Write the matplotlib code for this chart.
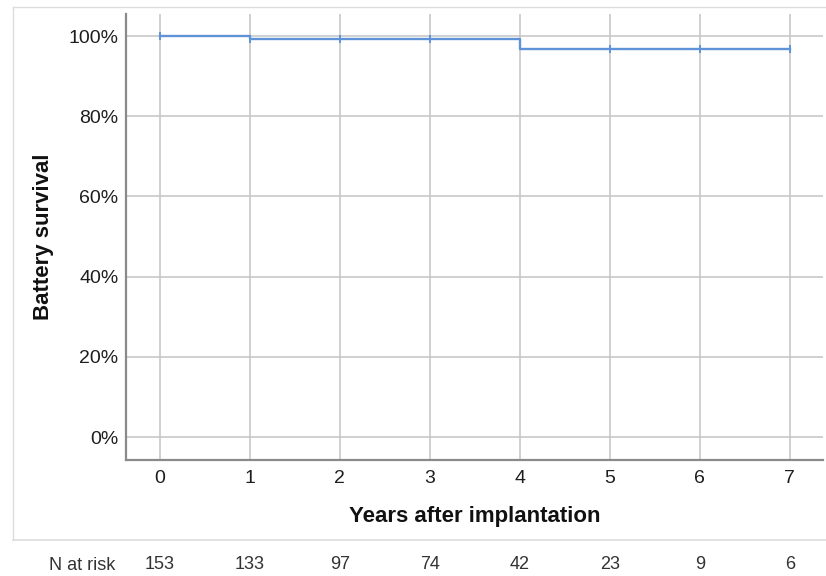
import matplotlib.pyplot as plt
from matplotlib.lines import Line2D

plt.rcParams['font.family'] = ['Liberation Sans', 'DejaVu Sans']

# Kaplan-Meier step data (battery survival, %)
times = [0, 1, 4, 7]
survival = [100.0, 99.2, 96.7, 96.7]
censor_t = [0, 1, 2, 3, 5, 6, 7]
censor_s = [100.0, 99.2, 99.2, 99.2, 96.7, 96.7, 96.7]
years = [0, 1, 2, 3, 4, 5, 6, 7]
n_at_risk = [153, 133, 97, 74, 42, 23, 9, 6]
yticks = [0, 20, 40, 60, 80, 100]

line_color = '#5f93d8'
grid_color = '#c4c4c4'

fig = plt.figure(figsize=(8.26, 5.76), dpi=100)
ax = fig.add_axes([0.1525, 0.2014, 0.8440, 0.7743])

ax.step(times, survival, where='post', color=line_color, lw=1.7, zorder=3)
ax.plot(censor_t, censor_s, ls='none', marker='|', ms=6, mew=1.4,
        color=line_color, zorder=4)

ax.set_xlim(-0.378, 7.37)
ax.set_ylim(-5.7, 105.5)
ax.set_xticks(years)
ax.set_yticks(yticks)
ax.set_yticklabels([f'{v}%' for v in yticks])
ax.grid(True, color=grid_color, lw=1.1)
ax.set_axisbelow(True)
ax.tick_params(length=0, labelsize=14, colors='#1e1e1e')
ax.tick_params(axis='y', pad=5.5)
ax.tick_params(axis='x', pad=7)

for s in ['top', 'right']:
    ax.spines[s].set_visible(False)
for s in ['left', 'bottom']:
    ax.spines[s].set_color('#8a8a8a')
    ax.spines[s].set_linewidth(1.6)

ax.set_ylabel('Battery survival', fontsize=16, fontweight='bold', labelpad=10,
              color='#111111')
ax.set_xlabel('Years after implantation', fontsize=16, fontweight='bold',
              labelpad=14, color='#111111')

# light outer frame
fc = '#dddddd'
fig.add_artist(Line2D([13 / 826, 1], [1 - 7 / 576, 1 - 7 / 576], color=fc, lw=1))
fig.add_artist(Line2D([13 / 826, 13 / 826], [1 - 7 / 576, 1 - 540 / 576], color=fc, lw=1))
fig.add_artist(Line2D([13 / 826, 1], [1 - 540 / 576, 1 - 540 / 576], color=fc, lw=1.2))

# number at risk row
trans = ax.get_xaxis_transform()
y_risk = -(565 - 460) / 446
for yr, n in zip(years, n_at_risk):
    ax.text(yr, y_risk, str(n), transform=trans, ha='center', va='center',
            fontsize=13, color='#333333', clip_on=False)
fig.text(82 / 826, 1 - 565 / 576, 'N at risk', ha='center', va='center',
         fontsize=13, color='#333333')

fig.savefig('out.png', dpi=100)
